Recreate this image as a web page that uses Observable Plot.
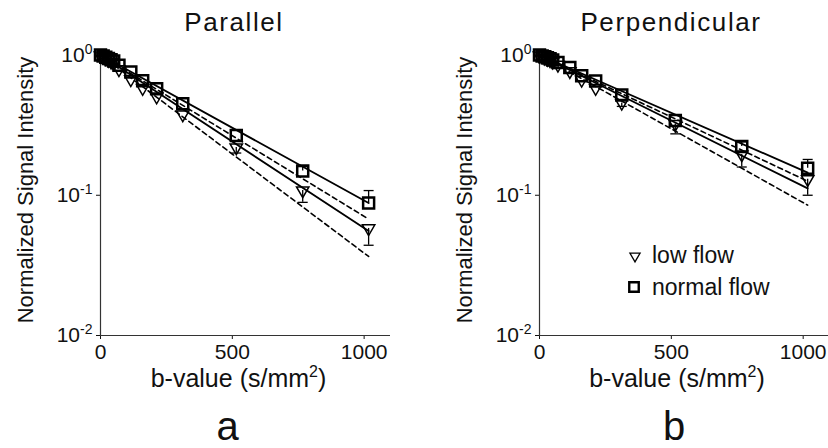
<!DOCTYPE html>
<html><head><meta charset="utf-8">
<script src="https://cdn.jsdelivr.net/npm/d3@7"></script>
<script src="https://cdn.jsdelivr.net/npm/@observablehq/plot@0.6"></script>
<style>
html,body{margin:0;padding:0;background:#fff;overflow:hidden;}
#wrap{position:relative;width:828px;height:448px;font-family:"Liberation Sans",Arial,sans-serif;}
#wrap svg.panel{position:absolute;top:0;}
#overlay{position:absolute;left:0;top:0;pointer-events:none;}
</style></head><body><div id="wrap"></div>
<script>
// ---- data ----
const bValues   = [0, 10, 20, 30, 40, 50, 70, 115, 160, 213, 312, 515, 767, 1017];
const parNormal = [1.0, 0.985, 0.965, 0.945, 0.925, 0.905, 0.845, 0.755, 0.655, 0.575, 0.45, 0.267, 0.149, 0.088];
const parLow    = [0.99, 0.97, 0.945, 0.92, 0.895, 0.87, 0.79, 0.67, 0.58, 0.505, 0.376, 0.219, 0.108, 0.058];
const perpNormal= [1.0, 0.985, 0.97, 0.955, 0.94, 0.92, 0.885, 0.815, 0.71, 0.652, 0.518, 0.341, 0.223, 0.156];
const perpLow   = [0.99, 0.975, 0.955, 0.935, 0.915, 0.895, 0.85, 0.765, 0.665, 0.58, 0.455, 0.322, 0.195, 0.13];
// error bar ends (null = no visible bar): normal flow upward, low flow downward
const parNormalErr  = [null,null,null,null,null,null,null,null,null,null,null,null,0.16,0.108];
const parLowErr     = [null,null,null,null,null,null,null,null,null,null,null,0.20,0.089,0.044];
const perpNormalErr = [null,null,null,null,null,null,null,null,null,null,null,null,0.24,0.18];
const perpLowErr    = [null,null,null,null,null,null,null,null,null,null,0.43,0.274,0.159,0.10];
// fitted lines (end points)
const fitB = [0, 1017];
const parFitNormalSolid  = [1, 0.088];
const parFitNormalDashed = [1, 0.0676];
const parFitLowSolid     = [1, 0.0555];
const parFitLowDashed    = [1, 0.0366];
const perpFitNormalSolid  = [1, 0.145];
const perpFitNormalDashed = [1, 0.126];
const perpFitLowSolid     = [1, 0.112];
const perpFitLowDashed    = [1, 0.085];
// ticks and labels
const xTicks = [0, 500, 1000];
const yTicks = [1, 0.1, 0.01];
const yTickExponents = ["0", "-1", "-2"];
const panelTitles = ["Parallel", "Perpendicular"];
const panelLetters = ["a", "b"];
const legendLabels = ["low flow", "normal flow"];
const yLabel = "Normalized Signal Intensity";

const capSymbol = {draw(ctx) { ctx.moveTo(-5, 0); ctx.lineTo(5, 0); }};

function rows(vals, errs) { return bValues.map((b, i) => ({b, s: vals[i], e: errs ? errs[i] : null})); }
function fitRows(vals) { return fitB.map((b, i) => ({b, s: vals[i]})); }

function panel({normal, low, normalErr, lowErr, fits, marginLeft, marginRight, xDomain}) {
  const nRows = rows(normal, normalErr), lRows = rows(low, lowErr);
  const nE = nRows.filter(d => d.e != null), lE = lRows.filter(d => d.e != null);
  const svg = Plot.plot({
    width: 414, height: 448,
    marginTop: 54.5, marginBottom: 113, marginLeft, marginRight,
    x: {domain: xDomain, ticks: xTicks, tickSize: 4, tickPadding: 5, label: null, tickFormat: d => String(d)},
    y: {type: "log", domain: [0.01, 1], ticks: yTicks, tickSize: 4, tickPadding: 4, label: null, tickFormat: () => "10"},
    style: {fontFamily: "'Liberation Sans', Arial, sans-serif", fontSize: "21px", color: "#111", background: "transparent", overflow: "visible"},
    marks: [
      Plot.ruleX([0], {stroke: "#333", strokeWidth: 1.2}),
      Plot.ruleY([0.01], {stroke: "#333", strokeWidth: 1.2}),
      Plot.line(fitRows(fits[0]), {x: "b", y: "s", stroke: "#000", strokeWidth: 1.8}),
      Plot.line(fitRows(fits[1]), {x: "b", y: "s", stroke: "#000", strokeWidth: 1.6, strokeDasharray: "5,3.5"}),
      Plot.line(fitRows(fits[2]), {x: "b", y: "s", stroke: "#000", strokeWidth: 1.8}),
      Plot.line(fitRows(fits[3]), {x: "b", y: "s", stroke: "#000", strokeWidth: 1.6, strokeDasharray: "5,3.5"}),
      Plot.ruleX(lE, {x: "b", y1: "s", y2: "e", stroke: "#000", strokeWidth: 1.3}),
      Plot.dot(lE, {x: "b", y: "e", symbol: capSymbol, r: 4, stroke: "#000", fill: "none", strokeWidth: 1.3}),
      Plot.ruleX(nE, {x: "b", y1: "s", y2: "e", stroke: "#000", strokeWidth: 1.3}),
      Plot.dot(nE, {x: "b", y: "e", symbol: capSymbol, r: 4, stroke: "#000", fill: "none", strokeWidth: 1.3}),
      Plot.dot(lRows, {x: "b", y: "s", symbol: "triangle", rotate: 180, r: 4.6, fill: "none", stroke: "#000", strokeWidth: 1.5}),
      Plot.dot(nRows, {x: "b", y: "s", symbol: "square", r: 6.2, fill: "none", stroke: "#000", strokeWidth: 2.5})
    ]
  });
  svg.classList.add("panel");
  // superscript exponents on y tick labels
  const labels = svg.querySelectorAll('g[aria-label="y-axis tick label"] text');
  labels.forEach((t, i) => {
    const ts = document.createElementNS("http://www.w3.org/2000/svg", "tspan");
    ts.setAttribute("dy", "-8");
    ts.setAttribute("font-size", "14");
    ts.textContent = yTickExponents[i];
    t.appendChild(ts);
  });
  return svg;
}

const wrap = document.getElementById("wrap");
const left = panel({normal: parNormal, low: parLow, normalErr: parNormalErr, lowErr: parLowErr,
  fits: [parFitNormalSolid, parFitNormalDashed, parFitLowSolid, parFitLowDashed],
  marginLeft: 100, marginRight: 24, xDomain: [0, 1100]});
left.style.left = "0px";
const right = panel({normal: perpNormal, low: perpLow, normalErr: perpNormalErr, lowErr: perpLowErr,
  fits: [perpFitNormalSolid, perpFitNormalDashed, perpFitLowSolid, perpFitLowDashed],
  marginLeft: 125, marginRight: 0, xDomain: [0, 1096]});
right.style.left = "414px";
wrap.appendChild(left);
wrap.appendChild(right);

// ---- annotation overlay ----
const ov = d3.select(wrap).append("svg").attr("id", "overlay").attr("width", 828).attr("height", 448)
  .style("font-family", "'Liberation Sans', Arial, sans-serif").attr("fill", "#111");
const titleX = [234, 671], xLabX = [238.5, 677], yLabX = [33, 472], letterX = [227.5, 674];
[0, 1].forEach(i => {
  ov.append("text").attr("x", titleX[i]).attr("y", 30.7).attr("text-anchor", "middle")
    .attr("font-size", 26).style("letter-spacing", "1.6px").text(panelTitles[i]);
  const xl = ov.append("text").attr("x", xLabX[i]).attr("y", 387).attr("text-anchor", "middle").attr("font-size", 25);
  xl.append("tspan").text("b-value (s/mm");
  xl.append("tspan").attr("dy", -10).attr("font-size", 16).text("2");
  xl.append("tspan").attr("dy", 10).text(")");
  ov.append("text").attr("transform", `translate(${yLabX[i]},190) rotate(-90)`).attr("text-anchor", "middle")
    .attr("font-size", 22).text(yLabel);
  ov.append("text").attr("x", letterX[i]).attr("y", 440).attr("text-anchor", "middle")
    .attr("font-size", 40).text(panelLetters[i]);
});
// legend (right panel)
ov.append("path").attr("d", d3.symbol(d3.symbolTriangle, 45)()).attr("transform", "translate(635,256) rotate(180)")
  .attr("fill", "none").attr("stroke", "#000").attr("stroke-width", 1.3);
ov.append("text").attr("x", 652).attr("y", 263).attr("font-size", 23).text(legendLabels[0]);
ov.append("path").attr("d", d3.symbol(d3.symbolSquare, 90)()).attr("transform", "translate(634,287)")
  .attr("fill", "none").attr("stroke", "#000").attr("stroke-width", 2.4);
ov.append("text").attr("x", 652).attr("y", 295).attr("font-size", 23).text(legendLabels[1]);
</script></body></html>
